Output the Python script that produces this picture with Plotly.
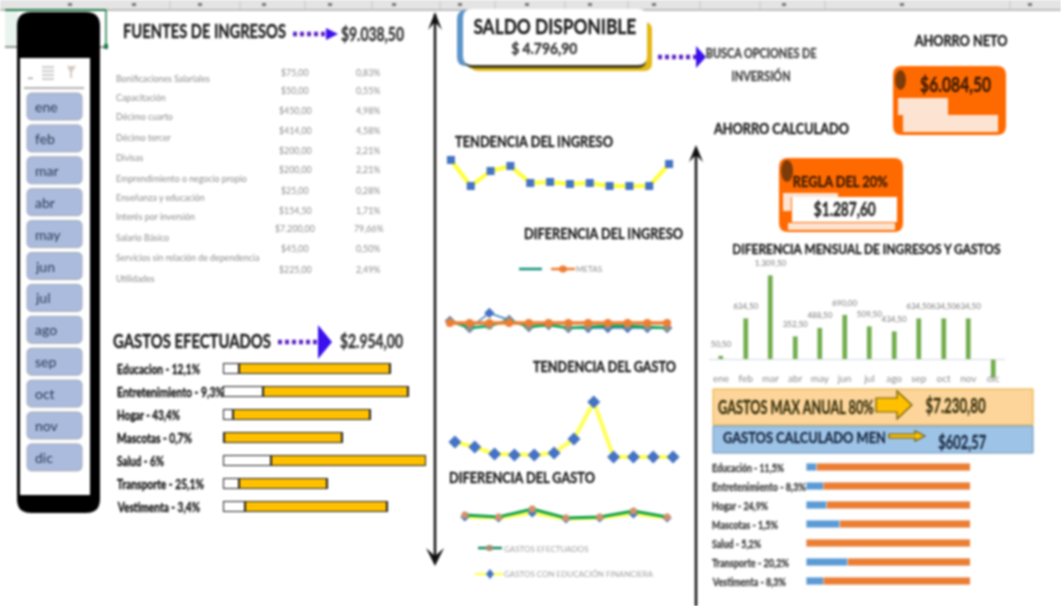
import plotly.graph_objects as go

W, H = 1061, 606
MESES = ["ene","feb","mar","abr","may","jun","jul","ago","sep","oct","nov","dic"]
FUENTES = ["Bonificaciones Salariales","Capacitación","Décimo cuarto","Décimo tercer","Divisas",
           "Emprendimiento o negocio propio","Enseñanza y educación","Interés por inversión",
           "Salario Básico","Servicios sin relación de dependencia","Utilidades"]
FUENTES_VAL = ["$75,00","$50,00","$450,00","$414,00","$200,00","$200,00","$25,00","$154,50","$7.200,00","$45,00","$225,00"]
FUENTES_PCT = ["0,83%","0,55%","4,98%","4,58%","2,21%","2,21%","0,28%","1,71%","79,66%","0,50%","2,49%"]
GASTO_LBL = ["Educacion - 12,1%","Entretenimiento - 9,3%","Hogar - 43,4%","Mascotas - 0,7%","Salud - 6%","Transporte - 25,1%","Vestimenta - 3,4%"]
GASTO_LBL_W = [83,107,63,75,47,87,83]
GASTO_A = [16,40,10,1,48,16,22]
GASTO_B = [151,145,137,118,155,88,142]
ING_TEND = [1100,600,888,985,658,677,638,658,600,600,600,1023]
ING_META = [753]*12
ING_REAL = [793,653,693,813,673,713,653,673,693,693,673,653]
ING_AUX = [793,653,953,813,673,713,653,653,653,653,653,653]
GAS_TEND = [317,257,173,161,161,185,353,797,137,137,137,137]
CATS = ["Educación","Entretenimiento","Hogar","Mascotas","Salud","Transporte","Vestimenta"]
GAS_EF = [330,310,390,300,310,370,310]
GAS_ED = [310,300,350,290,300,340,300]
DIF_VAL = [50.5,634.5,1309.5,352.5,488.5,690,509.5,434.5,634.5,634.5,634.5,-288]
DIF_TXT = ["50,50","634,50","1.309,50","352,50","488,50","690,00","509,50","434,50","634,50","634,50","634,50",""]
PCT_LBL = ["Educación - 11,5%","Entretenimiento - 8,3%","Hogar - 24,9%","Mascotas - 1,5%","Salud - 5,2%","Transporte - 20,2%","Vestimenta - 8,3%"]
PCT_LBL_W = [72,94,56,66,49,77,74]
PCT_A = [6.7,10.4,12.8,20.7,0,25.6,10.4]
PCT_B = [93.3,89.6,87.2,79.3,100,74.4,89.6]

FONT = "Lato"
DARK = "#1c1c1c"
fig = go.Figure()
shapes, annos = [], []
axn = [0]
def X(x): return x / W
def Y(y): return 1 - y / H

def axes(x0, x1, y0, y1, xr, yr, xkw=None, ykw=None):
    axn[0] += 1
    n = axn[0]
    sx = "" if n == 1 else str(n)
    xa = dict(domain=[X(x0), X(x1)], range=xr, visible=False, anchor="y"+sx, fixedrange=True)
    ya = dict(domain=[Y(y1), Y(y0)], range=yr, visible=False, anchor="x"+sx, fixedrange=True)
    if xkw: xa.update(xkw)
    if ykw: ya.update(ykw)
    fig.update_layout({"xaxis"+sx: xa, "yaxis"+sx: ya})
    return "x"+sx, "y"+sx

def rect(x0,y0,x1,y1,fill,line=None,lw=1,layer="below"):
    shapes.append(dict(type="rect",xref="paper",yref="paper",x0=X(x0),x1=X(x1),y0=Y(y0),y1=Y(y1),
                       fillcolor=fill,line=dict(color=line or fill,width=lw if line else 0),layer=layer))
def rrect(x0,y0,x1,y1,r,fill,line=None,lw=1,layer="below"):
    p=(f"M {X(x0+r)} {Y(y0)} L {X(x1-r)} {Y(y0)} Q {X(x1)} {Y(y0)} {X(x1)} {Y(y0+r)} "
       f"L {X(x1)} {Y(y1-r)} Q {X(x1)} {Y(y1)} {X(x1-r)} {Y(y1)} L {X(x0+r)} {Y(y1)} "
       f"Q {X(x0)} {Y(y1)} {X(x0)} {Y(y1-r)} L {X(x0)} {Y(y0+r)} Q {X(x0)} {Y(y0)} {X(x0+r)} {Y(y0)} Z")
    shapes.append(dict(type="path",xref="paper",yref="paper",path=p,fillcolor=fill,
                       line=dict(color=line or fill,width=lw if line else 0),layer=layer))
def poly(pts,fill,line=None,lw=1,close=True,layer="below"):
    p="M "+" L ".join(f"{X(a)} {Y(b)}" for a,b in pts)+(" Z" if close else "")
    shapes.append(dict(type="path",xref="paper",yref="paper",path=p,fillcolor=fill,
                       line=dict(color=line or fill,width=lw if line else 0),layer=layer))
def seg(x0,y0,x1,y1,color,lw=1,dash=None,layer="below"):
    shapes.append(dict(type="line",xref="paper",yref="paper",x0=X(x0),x1=X(x1),y0=Y(y0),y1=Y(y1),
                       line=dict(color=color,width=lw,dash=dash or "solid"),layer=layer))
def ell(x0,y0,x1,y1,fill):
    shapes.append(dict(type="circle",xref="paper",yref="paper",x0=X(x0),x1=X(x1),y0=Y(y0),y1=Y(y1),
                       fillcolor=fill,line=dict(width=0),layer="below"))
def txt(x,y,s,size=12,color=DARK,bold=False,anchor="left",w=None):
    a = dict(xref="paper",yref="paper",x=X(x),y=Y(y),text=f"<b>{s}</b>" if bold else s,showarrow=False,
             xanchor=anchor,yanchor="middle",borderpad=0,font=dict(family=FONT,size=size,color=color))
    if w: a["name"] = str(w)
    annos.append(a)
def ntxt(x,y,s,size,w,color=DARK,anchor="left"):
    txt(x,y,s,size,color,True,anchor,w)

# sheet header strip
rect(0,0,W,9,"#e4e4e4")
seg(0,10,W,10,"#a8a8a8",1.5)
for c in [170,240,305,372,440,495,565,628,700,760,825,1010]:
    seg(c,1,c,9,"#c4c4c4",1)
for c in [68,132,198,262,328,392,458,525,588,652,782,900,1028]:
    rect(c,3,c+4,6,"#777777")

# selection border of the sheet cell
rect(5,10,18,47,"#eaf4ee")
seg(5,10,106,10,"#1f7a4a",2)
seg(106,10,106,46,"#1f7a4a",1.5)
seg(5,47,18,47,"#333333",1)
seg(99,47,105,47,"#333333",1)
rect(104,44,108,49,"#1f7a4a")

# slicer
rrect(17,12,100,513,14,"#000000")
rect(20,58,90,495,"#ffffff")
seg(24,88,84,88,"#666666",1)
txt(27,75,"..",10,"#333333",True)
for yy in (67,71,75,79):
    seg(42,yy,54,yy,"#9a9a9a",1)
poly([(67,66),(76,66),(72,72),(72,78),(70,78),(70,72)],"#d8c9c0")
for i,m in enumerate(MESES):
    t = 93+i*31.9
    rrect(27,t,82,t+27,5,"#abbbdd","#a3a9b5",1)
    txt(34,t+13.5,m,14,"#2b3a55")

# vertical arrows
seg(435,14,435,558,"#111111",2.5)
poly([(428,30),(435,12),(442,30),(435,22)],"#111111")
poly([(426,548),(435,566),(444,548),(435,556)],"#111111")
seg(696,150,696,606,"#111111",2.5)
poly([(689,162),(696,145),(703,162),(696,155)],"#111111")

# left titles + dashed arrows
def dash_arrow(x0,x1,y,hw,hl):
    seg(x0,y,x1-hl,y,"#5a1fc4",4.5,"4px,3px")
    poly([(x1-hl,y-hw),(x1,y),(x1-hl,y+hw)],"#3b10ee")
ntxt(122,30,"FUENTES DE INGRESOS",19,163)
dash_arrow(293,338,34,6,12)
ntxt(340,34,"$9.038,50",18,63,"#333333")
for i,(a,b,c) in enumerate(zip(FUENTES,FUENTES_VAL,FUENTES_PCT)):
    yn = [78,97,117,137,157,178,197,217,237,257,278][i]
    yv = [73,91,111,130,150,170,190,211,229,249,270][i]
    txt(115,yn,a,8.8,"#8c8c8c")
    txt(295,yv,b,8.8,"#8c8c8c",anchor="center")
    txt(368,yv,c,8.8,"#8c8c8c",anchor="center")
ntxt(112,340,"GASTOS EFECTUADOS",19,158)
dash_arrow(278,332,342,17,14)
ntxt(339,341,"$2.954,00",18,63,"#333333")

# gastos efectuados bars
xa,ya = axes(223,426,357,518,[0,203],[6.5,-0.5])
fig.add_bar(x=GASTO_A,y=GASTO_LBL,orientation="h",xaxis=xa,yaxis=ya,marker=dict(color="#ffffff",line=dict(color="#222222",width=1.2)),width=0.42,showlegend=False)
fig.add_bar(x=GASTO_B,y=GASTO_LBL,orientation="h",xaxis=xa,yaxis=ya,marker=dict(color="#ffc000",line=dict(color="#222222",width=1.2)),width=0.42,showlegend=False)
fig.update_layout({"yaxis":dict(type="category",categoryorder="array",categoryarray=GASTO_LBL,range=[6.5,-0.5]),"barmode":"stack"})
for c,w in zip(GASTO_LBL,GASTO_LBL_W):
    annos.append(dict(xref="paper",yref=ya,x=X(116),y=c,text=f"<b>{c}</b>",showarrow=False,xanchor="left",name=str(w),
                      font=dict(family=FONT,size=14,color="#111111"),borderpad=0))

# saldo box
rrect(457,10,640,66,9,"#5b94c8")
rrect(470,22,652,71,8,"#e4b714")
rrect(465,20,646,68,8,"#3a3a1e")
rrect(463,9,647,65,9,"#ffffff")
ntxt(555,26,"SALDO DISPONIBLE",21,163,DARK,"center")
ntxt(544,48,"$ 4.796,90",16,66,"#333333","center")
dash_arrow(658,706,57,11,10)
ntxt(761,53,"BUSCA OPCIONES DE",13,111,"#444444","center")
ntxt(761,76,"INVERSIÓN",13,59,"#444444","center")

# tendencia del ingreso
ntxt(454,141,"TENDENCIA DEL INGRESO",15,158)
xa,ya = axes(441,679,150,196,[-0.5,11.5],[408,1291])
fig.add_scatter(x=MESES,y=ING_TEND,xaxis=xa,yaxis=ya,mode="lines+markers",showlegend=False,
                line=dict(color="#ffff33",width=4),marker=dict(symbol="square",size=8,color="#4472c4"))

# diferencia del ingreso
ntxt(523,233,"DIFERENCIA DEL INGRESO",15,159)
xa,ya = axes(440,677,300,340,[-0.5,11.5],[413,1213])
fig.add_scatter(x=MESES,y=ING_AUX,xaxis=xa,yaxis=ya,mode="lines+markers",showlegend=False,
                line=dict(color="#2e75b6",width=1.5),marker=dict(symbol="diamond",size=8,color="#4472c4"))
fig.add_scatter(x=MESES,y=ING_REAL,xaxis=xa,yaxis=ya,mode="lines+markers",showlegend=False,
                line=dict(color="#00a050",width=2.5),marker=dict(size=7,color="#8a8f88"))
fig.add_scatter(x=MESES,y=ING_META,xaxis=xa,yaxis=ya,mode="lines+markers",showlegend=False,
                line=dict(color="#ed7d31",width=3.5),marker=dict(size=8,color="#ed7d31"))
seg(519,269,542,269,"#10907a",2.5)
seg(551,269,575,269,"#ed7d31",2.5)
ell(559,265.5,567,272.5,"#ed7d31")
txt(575,269,"METAS",8,"#8c8c8c")

# tendencia del gasto
ntxt(532,366,"TENDENCIA DEL GASTO",15,143)
xa,ya = axes(445,683,390,470,[-0.5,11.5],[-19,941])
fig.add_scatter(x=MESES,y=GAS_TEND,xaxis=xa,yaxis=ya,mode="lines+markers",showlegend=False,
                line=dict(color="#ffff55",width=4),marker=dict(symbol="diamond",size=10,color="#4472c4"))

# diferencia del gasto
ntxt(448,477,"DIFERENCIA DEL GASTO",15,146)
xa,ya = axes(448,684,500,530,[-0.5,6.5],[180,480])
fig.add_scatter(x=CATS,y=GAS_ED,xaxis=xa,yaxis=ya,mode="lines+markers",showlegend=False,
                line=dict(color="#ffff55",width=3.5),marker=dict(symbol="diamond",size=7,color="#4472c4"))
fig.add_scatter(x=CATS,y=GAS_EF,xaxis=xa,yaxis=ya,mode="lines+markers",showlegend=False,
                line=dict(color="#0fa04a",width=3),marker=dict(size=7,color="#d2906a"))
seg(478,548,502,548,"#0f8a5a",2.5)
ell(486,545,493,551,"#a88a70")
txt(503,549,"GASTOS EFECTUADOS",8,"#a0a0a0")
seg(475,574,503,574,"#ffff55",2.5)
poly([(490,569),(494,574),(490,579),(486,574)],"#4472c4")
txt(503,574,"GASTOS CON EDUCACIÓN FINANCIERA",8,"#a0a0a0")

# ahorro neto
ntxt(961,41,"AHORRO NETO",14.5,94,DARK,"center")
rrect(893,66,1006,135,9,"#ff6a00")
ell(895,70,906,90,"#7d3b0a")
poly([(898,98),(948,98),(948,115),(998,115),(998,132),(903,132),(903,115),(898,115)],"#fde3d2")
ntxt(955,83,"$6.084,50",21,71,"#3a1a00","center")

# ahorro calculado
ntxt(712,128,"AHORRO CALCULADO",15,136)
rrect(779,158,903,232,9,"#ff6a00")
ell(781,160,793,182,"#7d3b0a")
rect(783,193,838,197,"#fde3d2")
rect(783,193,791,211,"#fde3d2")
rect(788,223,895,230,"#fde3d2")
rect(792,197,897,222,"#ffffff")
ntxt(840,180,"REGLA DEL 20%",16,95,"#3a1a00","center")
ntxt(845,209,"$1.287,60",18,62,"#222222","center")

# diferencia mensual
ntxt(866,249,"DIFERENCIA MENSUAL DE INGRESOS Y GASTOS",14,269,DARK,"center")
xa,ya = axes(708.6,1005.4,265,385,[-0.5,11.5],[-405,1466],
             xkw=dict(visible=True,showline=False,showgrid=False,ticks="",tickfont=dict(family=FONT,size=10,color="#8c8c8c"),
                      zeroline=False,type="category",ticklabelstandoff=-14),
             ykw=dict(zeroline=True,zerolinecolor="#d4d8e4",zerolinewidth=1,showgrid=False,showticklabels=False,visible=True,showline=False,ticks=""))
fig.add_bar(x=MESES,y=DIF_VAL,xaxis=xa,yaxis=ya,marker_color="#70ad47",width=0.2,showlegend=False)
fig.add_scatter(x=MESES,y=DIF_VAL,xaxis=xa,yaxis=ya,mode="text+markers",text=DIF_TXT,textposition="top center",
                marker=dict(size=10,opacity=0),textfont=dict(family=FONT,size=8,color="#777777"),cliponaxis=False,showlegend=False)

# bands
rect(713,389,1033,425,"#fdd59a","#e6a92a",1)
poly([(876,398),(897,398),(897,391),(912,405),(897,419),(897,412),(876,412)],"#ffc000","#6b5a10",1.2)
ntxt(717,407,"GASTOS MAX ANUAL 80%",18,156,"#3a3410")
ntxt(955,404,"$7.230,80",21,60,"#3a3410","center")
rect(713,426,1033,453,"#9dc3e6","#6f93b5",1)
poly([(889,434),(915,434),(915,431),(925,436),(915,441),(915,438),(889,438)],"#ffc000","#6b5a10",1.2)
ntxt(722,436,"GASTOS CALCULADO MEN",16,163,"#1c2b44")
ntxt(962,441,"$602,57",19,48,"#1c2b44","center")

# right stacked bars
xa,ya = axes(806,970,457.5,590.5,[0,100],[6.5,-0.5])
fig.add_bar(x=PCT_A,y=PCT_LBL,orientation="h",xaxis=xa,yaxis=ya,marker_color="#5b9bd5",width=0.37,showlegend=False)
fig.add_bar(x=PCT_B,y=PCT_LBL,orientation="h",xaxis=xa,yaxis=ya,marker_color="#ed7d31",width=0.37,showlegend=False)
fig.update_layout({ya.replace("y","yaxis"):dict(type="category",categoryorder="array",categoryarray=PCT_LBL,range=[6.5,-0.5])})
for c,w in zip(PCT_LBL,PCT_LBL_W):
    annos.append(dict(xref="paper",yref=ya,x=X(711),y=c,text=f"<b>{c}</b>",showarrow=False,xanchor="left",name=str(w),
                      font=dict(family=FONT,size=11,color="#444444"),borderpad=0))

fig.update_layout(width=W,height=H,autosize=False,margin=dict(l=0,r=0,t=0,b=0),paper_bgcolor="#ffffff",plot_bgcolor="rgba(0,0,0,0)",
                  barmode="stack",shapes=shapes,annotations=annos,font=dict(family=FONT),hovermode=False)

POST = """
document.body.style.margin='0';document.body.style.overflow='hidden';
function squeeze(){
  var gd=document.querySelector('.plotly-graph-div');
  gd.style.filter='blur(0.8px)';
  gd.querySelectorAll('.annotation').forEach(function(g){
    var a=gd.layout.annotations[+g.getAttribute('data-index')];
    if(!a||!a.name)return;
    var t=g.querySelector('text');
    t.removeAttribute('transform');
    var b=t.getBBox();
    var ox=a.xanchor=='left'?b.x:(a.xanchor=='center'?b.x+b.width/2:b.x+b.width);
    var f=parseFloat(a.name)/b.width;
    t.setAttribute('transform','translate('+ox+' 0) scale('+f+' 1) translate('+(-ox)+' 0)');
    t.style.stroke=a.font.color;t.style.strokeWidth='0.35px';
  });
}
squeeze();
"""
fig.write_html("out.html",config=dict(displayModeBar=False),post_script=POST)
